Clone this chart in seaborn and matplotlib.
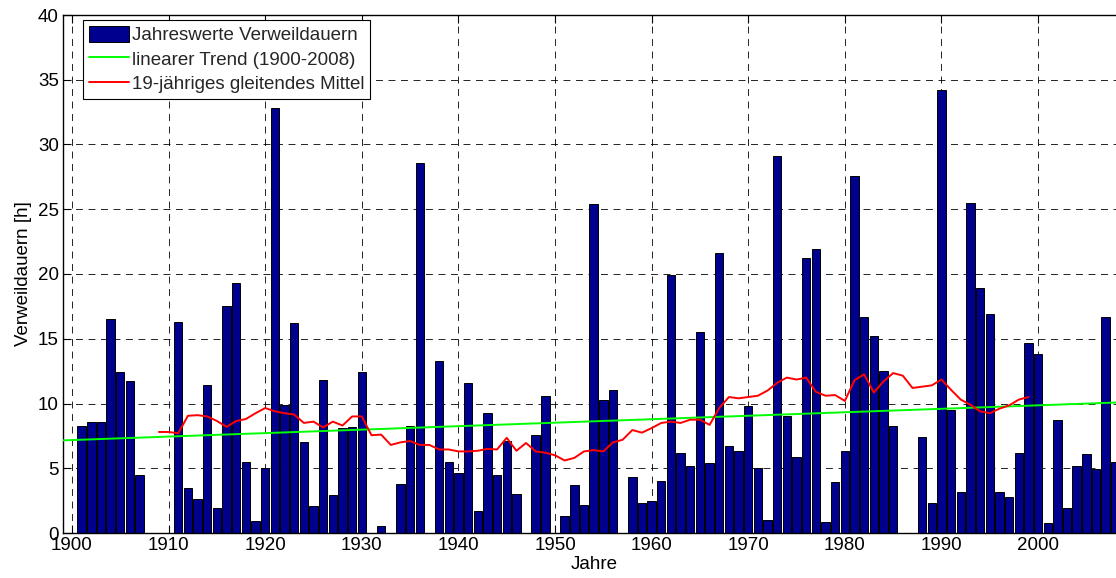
import numpy as np
import pandas as pd
import matplotlib
matplotlib.use("Agg")
import matplotlib.pyplot as plt
import seaborn as sns

# ---------------- data ----------------
bar_years = list(range(1901, 2009))
bar_values = [
    8.3, 8.6, 8.6, 16.5, 12.4, 11.7, 4.5, 0.0, 0.0, 0.0,          # 1901-1910
    16.3, 3.5, 2.6, 11.4, 1.9, 17.5, 19.3, 5.5, 0.9, 5.0,         # 1911-1920
    32.8, 9.9, 16.2, 7.0, 2.1, 11.8, 2.9, 8.1, 8.2, 12.4,         # 1921-1930
    0.0, 0.55, 0.0, 3.8, 8.3, 28.6, 0.0, 13.3, 5.5, 4.6,          # 1931-1940
    11.6, 1.7, 9.3, 4.5, 7.1, 3.0, 0.0, 7.6, 10.6, 0.0,           # 1941-1950
    1.3, 3.7, 2.15, 25.4, 10.3, 11.05, 0.0, 4.3, 2.3, 2.5,        # 1951-1960
    4.0, 19.9, 6.2, 5.2, 15.5, 5.4, 21.6, 6.7, 6.35, 9.8,         # 1961-1970
    5.0, 1.0, 29.1, 9.0, 5.85, 21.2, 21.9, 0.85, 3.95, 6.3,       # 1971-1980
    27.6, 16.65, 15.2, 12.5, 8.3, 0.0, 0.0, 7.45, 2.3, 34.2,      # 1981-1990
    9.5, 3.15, 25.5, 18.95, 16.9, 3.15, 2.8, 6.15, 14.7, 13.8,    # 1991-2000
    0.75, 8.75, 1.95, 5.2, 6.1, 4.95, 16.7, 5.45,                 # 2001-2008
]

ma_years = list(range(1909, 2000))
ma_values = [
    7.8, 7.8, 7.7, 9.05, 9.1, 9.0, 8.65, 8.2, 8.65, 8.8, 9.25,    # 1909-1919
    9.65, 9.4, 9.25, 9.15, 8.5, 8.6, 8.15, 8.6, 8.3, 9.0,         # 1920-1929
    9.0, 7.55, 7.6, 6.8, 7.0, 7.1, 6.8, 6.8, 6.45, 6.45,          # 1930-1939
    6.3, 6.3, 6.35, 6.5, 6.45, 7.35, 6.35, 6.95, 6.3, 6.2,        # 1940-1949
    6.0, 5.6, 5.8, 6.3, 6.4, 6.3, 7.0, 7.2, 7.95, 7.75,           # 1950-1959
    8.1, 8.5, 8.6, 8.5, 8.75, 8.75, 8.35, 9.65, 10.5, 10.4,       # 1960-1969
    10.5, 10.6, 11.0, 11.6, 12.0, 11.85, 12.0, 10.9, 10.6, 10.65, # 1970-1979
    10.2, 11.8, 12.25, 10.85, 11.7, 12.35, 12.15, 11.2, 11.3, 11.4,  # 1980-1989
    11.85, 11.05, 10.3, 9.9, 9.4, 9.25, 9.6, 9.85, 10.3, 10.5,    # 1990-1999
]

trend_years = [1899, 2009]
trend_values = [7.15, 10.1]

label_bars = "Jahreswerte Verweildauern"
label_trend = "linearer Trend (1900-2008)"
label_ma = "19-jähriges gleitendes Mittel"

x_ticks = [1900, 1910, 1920, 1930, 1940, 1950, 1960, 1970, 1980, 1990, 2000]
y_ticks = [0, 5, 10, 15, 20, 25, 30, 35, 40]

# ---------------- style ----------------
sns.set_theme(style="ticks")
plt.rcParams["font.family"] = ["Liberation Sans", "DejaVu Sans"]
plt.rcParams["lines.scale_dashes"] = False
FS = 13.5

fig = plt.figure(figsize=(11.16, 5.78), dpi=100)
ax = fig.add_axes([63 / 1116, 45 / 578, 1062 / 1116, 518 / 578])

bars_df = pd.DataFrame({"Jahr": bar_years, "Wert": bar_values})
sns.barplot(data=bars_df, x="Jahr", y="Wert", native_scale=True, width=0.87,
            color="#00008F", saturation=1, edgecolor="black", linewidth=0.7,
            errorbar=None, label=label_bars, ax=ax, zorder=2)

sns.lineplot(x=trend_years, y=trend_values, color=(0, 1, 0), lw=1.4,
             label=label_trend, ax=ax, zorder=3)
sns.lineplot(x=ma_years, y=ma_values, color=(1, 0, 0), lw=1.4,
             label=label_ma, ax=ax, zorder=4)

ax.set_xlim(1899.07, 2009.0)
ax.set_ylim(0, 40)
ax.set_xticks(x_ticks)
ax.set_xticklabels([str(t) for t in x_ticks])
ax.set_yticks(y_ticks)
ax.set_yticklabels([str(t) for t in y_ticks])

ax.set_axisbelow(True)
ax.grid(True, color="black", lw=0.6, ls=(0, (5, 4)))
for s in ax.spines.values():
    s.set_color("black")
    s.set_linewidth(1.0)
ax.tick_params(direction="in", length=6, width=0.8, top=True, right=True,
               labelsize=FS, colors="black", pad=3)

ax.set_xlabel("Jahre", fontsize=FS, color="black", labelpad=1)
ax.set_ylabel("Verweildauern [h]", fontsize=FS, color="black", labelpad=4)

handles, labels = ax.get_legend_handles_labels()
order = [labels.index(label_bars), labels.index(label_trend), labels.index(label_ma)]
leg = ax.legend([handles[i] for i in order], [labels[i] for i in order],
                loc="upper left", bbox_to_anchor=(20 / 1062, 1 - 5 / 518),
                borderaxespad=0, fontsize=FS, frameon=True, fancybox=False,
                edgecolor="black", framealpha=1, handlelength=2.15,
                handleheight=1.0, handletextpad=0.15, labelspacing=0.3,
                borderpad=0.3)
leg.get_frame().set_linewidth(0.8)

fig.savefig("out.png", dpi=100)
